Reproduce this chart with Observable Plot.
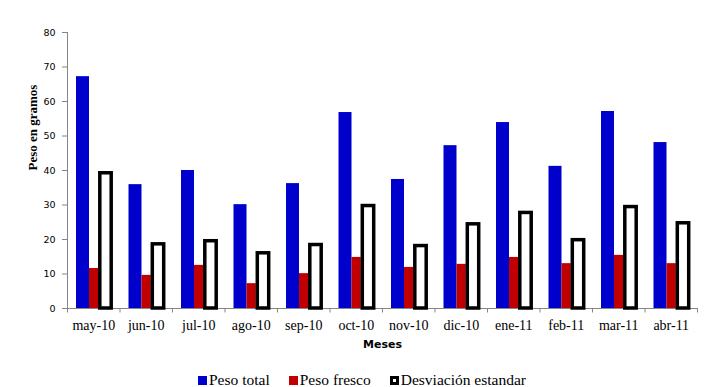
<!DOCTYPE html>
<html><head><meta charset="utf-8">
<script src="https://cdn.jsdelivr.net/npm/d3@7"></script>
<script src="https://cdn.jsdelivr.net/npm/@observablehq/plot@0.6"></script>
<style>
body{margin:0;background:#fff;}
#wrap{position:relative;width:723px;height:387px;overflow:hidden;background:#fff;}
#legend{position:absolute;left:198px;top:371px;display:flex;align-items:center;font-family:"Liberation Serif","Times New Roman",serif;font-size:15.5px;line-height:17px;color:#000;white-space:nowrap;}
#legend .item{display:flex;align-items:center;margin-right:19px;}
#legend .sw{width:9px;height:9px;margin-right:2px;box-sizing:border-box;position:relative;top:1px;}
</style>
</head><body><div id="wrap"><div id="chart"></div><div id="legend"></div></div>
<script>
const months = ["may-10","jun-10","jul-10","ago-10","sep-10","oct-10","nov-10","dic-10","ene-11","feb-11","mar-11","abr-11"];
const pesoTotal = [67.2,35.9,40.0,30.1,36.2,56.8,37.4,47.2,53.9,41.2,57.1,48.1];
const pesoFresco = [11.6,9.6,12.5,7.2,10.1,14.8,11.9,12.8,14.8,13.0,15.4,13.0];
const desviacion = [39.2,18.6,19.5,16.0,18.4,29.7,18.1,24.4,27.7,19.8,29.4,24.7];
const yTicks = [0,10,20,30,40,50,60,70,80];
const seriesNames = ["Peso total","Peso fresco","Desviación estandar"];
const seriesColors = ["#0000CC","#C00000","#000000"];
const xTitle = "Meses";
const yTitle = "Peso en gramos";

const W = 723, H = 370, mL = 67, mR = 26, mT = 32, mB = 62;
const bw = (W - mL - mR) / months.length;
const axisGray = "#868686";

const chart = Plot.plot({
  width: W, height: H,
  marginLeft: mL, marginRight: mR, marginTop: mT, marginBottom: mB,
  x: {domain: months, padding: 0, round: false, label: null},
  y: {domain: [0, 80], label: null},
  marks: [
    Plot.ruleY([0], {stroke: axisGray, strokeWidth: 1}),
    Plot.ruleX([months[0]], {x: d => d, dx: -bw/2, y1: 0, y2: 80, stroke: axisGray}),
    Plot.ruleX(months, {x: d => d, dx: -bw/2, y1: 0, y2: -1.3, stroke: axisGray}),
    Plot.ruleX([months[months.length-1]], {x: d => d, dx: bw/2, y1: 0, y2: -1.3, stroke: axisGray}),
    Plot.barY(months, {x: d => d, y: (d, i) => pesoTotal[i], fill: seriesColors[0], insetLeft: 9, insetRight: bw - 22}),
    Plot.barY(months, {x: d => d, y: (d, i) => pesoFresco[i], fill: seriesColors[1], insetLeft: 22, insetRight: bw - 31.3}),
    Plot.barY(months, {x: d => d, y: (d, i) => desviacion[i], fill: "#fff", stroke: seriesColors[2], strokeWidth: 3.5, insetLeft: 32.8, insetRight: bw - 44.2}),
    Plot.axisY({ticks: yTicks, tickSize: 5, tickPadding: 7, stroke: axisGray, fill: "#000", fontFamily: "DejaVu Sans", fontSize: 9.5, label: null}),
    Plot.axisX({tickSize: 0, tickPadding: 12, fill: "#000", fontFamily: "Liberation Serif", fontSize: 14, label: null}),
    Plot.text([yTitle], {frameAnchor: "left", dx: -35, rotate: -90, fontFamily: "Liberation Serif", fontWeight: "bold", fontSize: 13, fill: "#000"}),
    Plot.text([xTitle], {frameAnchor: "bottom", dy: 39, fontFamily: "DejaVu Sans", fontWeight: "bold", fontSize: 11, fill: "#000"})
  ]
});
document.getElementById("chart").appendChild(chart);

const legend = document.getElementById("legend");
seriesNames.forEach((name, i) => {
  const item = document.createElement("div");
  item.className = "item";
  const sw = document.createElement("span");
  sw.className = "sw";
  if (i === 2) { sw.style.background = "#fff"; sw.style.border = "3px solid " + seriesColors[i]; }
  else sw.style.background = seriesColors[i];
  const t = document.createElement("span");
  t.textContent = name;
  item.appendChild(sw); item.appendChild(t);
  legend.appendChild(item);
});
</script>
</body></html>
